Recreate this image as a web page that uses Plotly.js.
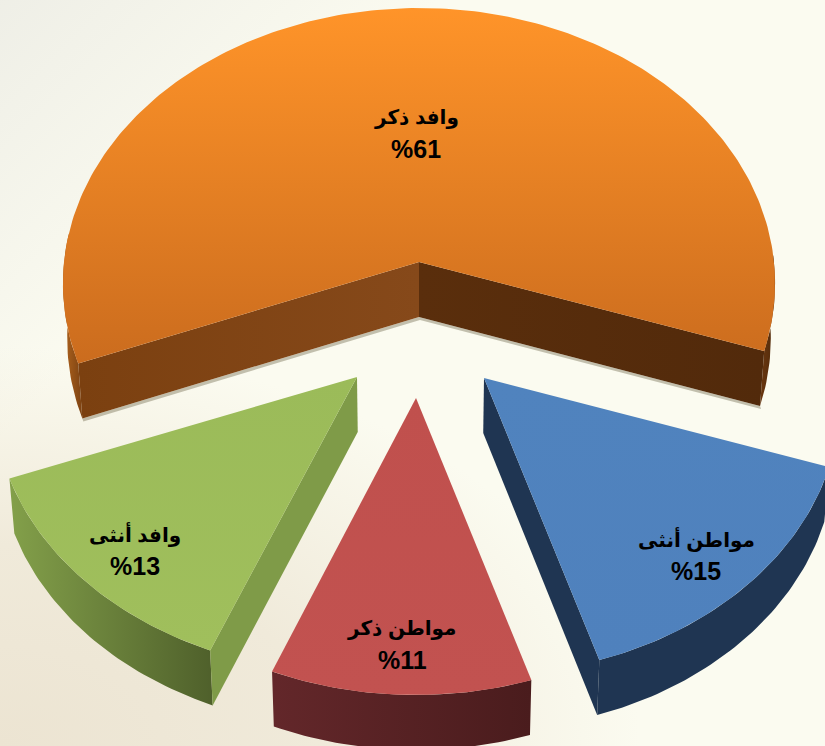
<!DOCTYPE html>
<html>
<head>
<meta charset="utf-8">
<script src="https://cdn.plot.ly/plotly-3.0.1.min.js"></script>
<style>
html,body{margin:0;padding:0;width:825px;height:746px;overflow:hidden;
background:
 radial-gradient(ellipse 640px 400px at 0% 100%, rgba(236,228,210,1) 0%, rgba(238,231,214,.85) 50%, rgba(251,251,240,0) 100%),
 linear-gradient(135deg, rgba(238,238,230,.95) 0%, rgba(251,251,240,0) 28%),
 #fbfbf0;}
#chart{width:825px;height:746px;}
</style>
</head>
<body>
<div id="chart"></div>
<script>
// Data
const categories = ["مواطن أنثى", "مواطن ذكر", "وافد أنثى", "وافد ذكر"];
const shares = [15, 11, 13, 61];
const percentLabels = ["%15", "%11", "%13", "%61"];

// Styles
const faceColors = [
  ["#4f81bd", "#5083be"],
  ["#c25250", "#c0504d"],
  ["#a0bf5c", "#9bbb59"],
  ["#cb6c1e", "#ff9429"]
];
const wallColors = [
  ["#1f3552", "#1f3552"],
  ["#63272a", "#4a1c1d"],
  ["#83a04a", "#4f602b"],
  ["#b0641e", "#7c4212"]
];
const radialColors = ["#1f3552", null, "#7f9b48", null];
const orangeRadial = [["#7b4010", "#86491a"], ["#5a2e0c", "#522a0b"]];
const orangeRightWall = ["#6b3710", "#4f2a0a"];
const shadowColor = "rgba(90,80,50,0.35)";

// Projection of the tilted pie
const rotation = 108.5, radiusX = 355, radiusY = 273.8, persp = 0.078, depth = 55, shrink = 0.012, vanishX = 419;
const apexes = [[484, 378], [416, 398], [357, 377], [419, 262]];
const widthScale = [1, 1, 1.02, 1];
const labelAnchors = [[212, 177], [-14, 246], [-222, 173], [-3, -129]];
const lineGap = 16;

const rad = d => d * Math.PI / 180;
function rim(theta, a, w) {
  const s = 1 / (1 + persp * Math.cos(rad(theta)));
  return [a[0] + w * radiusX * Math.sin(rad(theta)) * s, a[1] - radiusY * Math.cos(rad(theta)) * s];
}
const drop = p => [p[0] + (vanishX - p[0]) * shrink, p[1] + depth];
function poly(points, colors, type, name) {
  const t = {
    type: "scatter", mode: "lines", name: name, hoverinfo: "skip", showlegend: false,
    x: points.map(p => p[0]), y: points.map(p => p[1]), fill: "toself",
    line: {width: 0, color: colors[0]}
  };
  if (colors[0] === colors[1]) t.fillcolor = colors[0];
  else t.fillgradient = {type: type, colorscale: [[0, colors[0]], [1, colors[1]]]};
  return t;
}
function arc(t0, t1, a, w) {
  const pts = [], n = Math.ceil(Math.abs(t1 - t0));
  for (let i = 0; i <= n; i++) pts.push(rim(t0 + (t1 - t0) * i / n, a, w));
  return pts;
}
function outerWall(t0, t1, a, w) {
  const top = arc(t0, t1, a, w);
  return top.concat(top.slice().reverse().map(drop));
}

const shadows = [], walls = [], faces = [], annotations = [];
let start = rotation;
const total = shares.reduce((p, c) => p + c, 0);
const textFont = size => ({family: "Liberation Sans, DejaVu Sans, Arial, sans-serif", size: size, color: "#000"});
shares.forEach((v, i) => {
  const end = start + v / total * 360, a = apexes[i], name = categories[i], w = widthScale[i];
  if (i === 3) {
    walls.push(poly(outerWall(start, 276, a, w), wallColors[3], "horizontal", name));
    walls.push(poly(outerWall(end, end - 20, a, w), orangeRightWall, "horizontal", name));
    const L = rim(start, a, w), R = rim(end, a, w);
    walls.push(poly([a, L, drop(L), drop(a)], orangeRadial[0], "horizontal", name));
    walls.push(poly([a, R, drop(R), drop(a)], orangeRadial[1], "horizontal", name));
    const under = [drop(L), drop(a), drop(R)].map(p => [p[0] + 1, p[1] + 3]);
    shadows.push(poly([drop(L), drop(a), drop(R)].concat(under.reverse()), [shadowColor, shadowColor], "horizontal", name));
  } else {
    walls.push(poly(outerWall(start, end, a, w), wallColors[i], "horizontal", name));
    if (radialColors[i]) {
      const edge = rim(i === 2 ? start : end, a, w);
      walls.push(poly([a, edge, drop(edge), drop(a)], [radialColors[i], radialColors[i]], "horizontal", name));
    }
  }
  faces.push(poly([a].concat(arc(start, end, a, w)).concat([a]), faceColors[i], "vertical", name));
  const cx = a[0] + labelAnchors[i][0], cy = a[1] + labelAnchors[i][1];
  annotations.push({xref: "x", yref: "y", x: cx, y: cy - lineGap, showarrow: false,
    text: "<b>" + name + "</b>", font: textFont(20)});
  annotations.push({xref: "x", yref: "y", x: cx, y: cy + lineGap, showarrow: false,
    text: "<b>" + percentLabels[i] + "</b>", font: textFont(25)});
  start = end;
});

Plotly.newPlot("chart", shadows.concat(walls, faces), {
  width: 825, height: 746,
  margin: {l: 0, r: 0, t: 0, b: 0},
  paper_bgcolor: "rgba(0,0,0,0)", plot_bgcolor: "rgba(0,0,0,0)",
  xaxis: {range: [0, 825], visible: false, fixedrange: true},
  yaxis: {range: [746, 0], visible: false, fixedrange: true},
  annotations: annotations
}, {displayModeBar: false, staticPlot: true});
</script>
</body>
</html>
